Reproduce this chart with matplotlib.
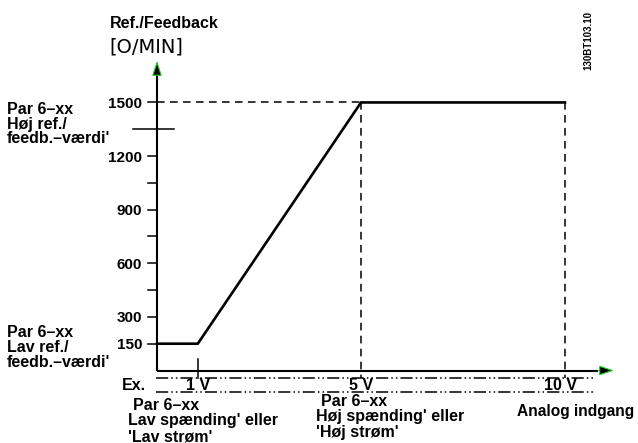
import matplotlib
matplotlib.use("Agg")
import matplotlib.pyplot as plt
import numpy as np

# curve: analog input (V) -> reference/feedback (O/MIN)
volts = [0, 1, 5, 10]
ref = [150, 150, 1500, 1500]

# y axis ticks
tick_vals = [150, 300, 450, 600, 750, 900, 1050, 1200, 1350, 1500]
label_vals = [150, 300, 600, 900, 1200, 1500]
cross_tick = 1350

# x axis markers
x_marks = [1, 5, 10]
x_mark_labels = ["1 V", "5 V", "10 V"]

W, H = 638, 443
X0, XS = 157.0, 40.8        # pixel of 0 V, px per volt
Y0, YS = 370.5, 0.1787      # pixel of 0, px per unit


def px2x(px):
    return (px - X0) / XS


def px2y(py):
    return (Y0 - py) / YS


FONT = dict(family=["Liberation Sans", "DejaVu Sans"], fontweight="bold",
            color="black")
TS = 11.5

fig = plt.figure(figsize=(W / 100, H / 100), dpi=100)
ax = fig.add_axes([0, 0, 1, 1])
ax.set_xlim(px2x(0), px2x(W))
ax.set_ylim(px2y(H), px2y(0))
ax.axis("off")

# axes with arrow heads
y_tip, y_base = px2y(61), px2y(75)
x_tip, x_base = px2x(614), px2x(598)
ax.plot([0, 0], [0, y_base], color="black", lw=1.5, solid_capstyle="butt")
ax.plot([0, x_base], [0, 0], color="black", lw=1.5, solid_capstyle="butt")
ax.annotate("", xy=(0, y_tip), xytext=(0, y_base),
            arrowprops=dict(arrowstyle="-|>,head_length=0.9,head_width=0.3",
                            fc="black", ec="#1ec81e", lw=0.8,
                            shrinkA=0, shrinkB=0))
ax.annotate("", xy=(x_tip, 0), xytext=(x_base, 0),
            arrowprops=dict(arrowstyle="-|>,head_length=0.9,head_width=0.3",
                            fc="black", ec="#1ec81e", lw=0.8,
                            shrinkA=0, shrinkB=0))

# y ticks and labels
for v in tick_vals:
    if v == cross_tick:
        ax.plot([px2x(133), px2x(174)], [v, v], color="black", lw=1.1)
    else:
        ax.plot([px2x(148), 0], [v, v], color="black", lw=1.1)
for v in label_vals:
    ax.text(px2x(142), v, str(v), ha="right", va="center_baseline",
            fontsize=11, **FONT)

# dashed guides
ax.plot([0, volts[2]], [ref[2], ref[2]], color="black", lw=1.1,
        ls=(0, (5, 3.5)))
for xv in x_marks[1:]:
    ax.plot([xv, xv], [ref[2], px2y(378)], color="black", lw=1.1,
            ls=(0, (5, 3.5)))
ax.plot([x_marks[0], x_marks[0]], [px2y(359), px2y(378)], color="black", lw=1.1)

# curve
ax.plot(volts, ref, color="black", lw=1.9, solid_joinstyle="miter")

# dash-dot-dot example bands
for py in (378.3, 391.7):
    ax.plot([px2x(156), px2x(593)], [px2y(py), px2y(py)], color="black",
            lw=1.1, ls=(0, (8, 2, 1, 2, 1, 2)))
for xv, lab in zip(x_marks, x_mark_labels):
    ax.text(xv - (0.1 if xv == 10 else 0), px2y(390.5), lab, ha="center",
            va="baseline", fontsize=TS, **FONT)
ax.text(px2x(122), px2y(390.5), "Ex.", ha="left", va="baseline",
        fontsize=TS, **FONT)


def lines(x, baselines, texts, size=TS):
    for b, t in zip(baselines, texts):
        fig.text(x / W, 1 - b / H, t, ha="left", va="baseline",
                 fontsize=size, **FONT)


# axis title
lines(110, [28], ["Ref./Feedback"])
fig.text(109 / W, 1 - 52.5 / H, "[O/MIN]", ha="left", va="baseline",
         fontsize=14, family="DejaVu Sans", color="black")

# parameter annotations
lines(7, [114, 128.5, 143], ["Par 6\u2013xx", "Høj ref./", "feedb.\u2013værdi'"])
lines(7, [337, 352, 367], ["Par 6\u2013xx", "Lav ref./", "feedb.\u2013værdi'"])
lines(133, [410], ["Par 6\u2013xx"])
lines(128, [425.5, 441], ["Lav spænding' eller", "'Lav strøm'"])
lines(321, [406], ["Par 6\u2013xx"])
lines(316, [421.5, 437], ["Høj spænding' eller", "'Høj strøm'"])
lines(517, [416], ["Analog indgang"], size=11.2)

fig.text(588 / W, 1 - 40 / H, "130BT103.10", rotation=90, ha="center",
         va="center", fontsize=7, **FONT)

fig.savefig("out.png", dpi=100)
